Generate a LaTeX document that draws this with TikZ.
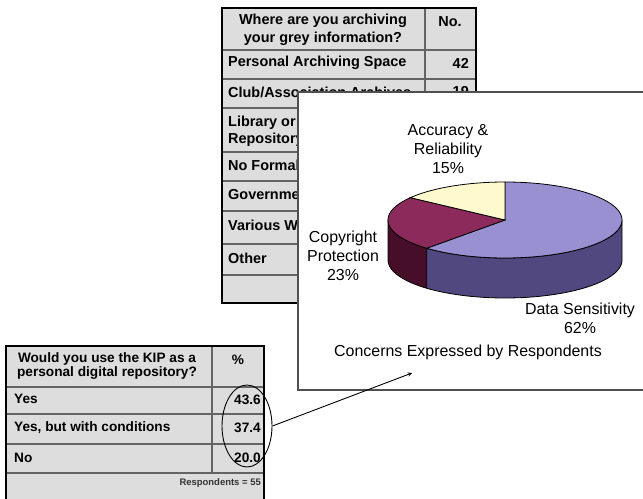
\documentclass[tikz,border=0pt]{standalone}
\usepackage{fontspec}
\setmainfont{Liberation Sans}
\usepackage{tikz}
\usetikzlibrary{arrows,shapes.geometric,positioning}
\definecolor{tblgray}{RGB}{221,221,221}
\definecolor{tblline}{RGB}{100,100,100}
\definecolor{boxline}{RGB}{80,80,80}
\definecolor{pieblue}{RGB}{153,144,210}
\definecolor{piebluedark}{RGB}{80,72,126}
\definecolor{piered}{RGB}{140,42,92}
\definecolor{pieredark}{RGB}{70,14,40}
\definecolor{pieyellow}{RGB}{255,250,206}
\tikzstyle{cell} = [inner sep=0pt, font=\bfseries\fontsize{14.5}{17.5}\selectfont]
\tikzstyle{smallcell} = [inner sep=0pt, font=\bfseries\fontsize{13.7}{14.5}\selectfont]
\tikzstyle{pielabel} = [inner sep=0pt, align=center, font=\fontsize{16}{19}\selectfont]
\tikzstyle{slice} = [draw=black, line width=0.8]
\tikzstyle{pointer} = [line width=0.9,->,>=stealth,color=black]
\def\pcx{505}
\def\pcy{220}
\def\prx{117}
\def\pry{38}
\def\pdep{40}

\begin{document}
\begin{tikzpicture}[x=1bp, y=-1bp]
\useasboundingbox (0,0) rectangle (643,499);
\clip (0,0) rectangle (643,499);
% Archive table
\fill[tblgray] (222,8) rectangle (476,303);
\foreach \y in {50,79,108,152,181,211,244,275}
  \draw[tblline, line width=1.4] (222,\y) -- (476,\y);
\draw[tblline, line width=1.4] (425,8) -- (425,303);
\draw[black, line width=2.5] (222,8) rectangle (476,303);
\node[cell, align=center] (qarch) at (323,30) {Where are you archiving\\your grey information?};
\node[cell] (qno) at (450,22) {No.};
\node[cell, anchor=west] (rpers) at (228,63) {Personal Archiving Space};
\node[cell, anchor=west] (rclub) at (228,92) {Club/Association Archives};
\node[cell, anchor=west, align=left] (rlib) at (228,131) {Library or\\Repository};
\node[cell, anchor=west] (rform) at (228,165) {No Formal};
\node[cell, anchor=west] (rgov) at (228,195) {Government};
\node[cell, anchor=west] (rvar) at (228,225) {Various W};
\node[cell, anchor=west] (roth) at (228,258) {Other};
\node[cell, anchor=east] (npers) at (469,63) {42};
\node[cell, anchor=east] (nclub) at (469,92) {19};

% Chart panel
\draw[boxline, line width=1.5, fill=white] (298,92) rectangle (660,390);
% Pie sides
\filldraw[slice, fill=pieredark] plot[domain=180:228, samples=30] ({\pcx+\prx*cos(\x)},{\pcy-\pry*sin(\x)})
  -- plot[domain=228:180, samples=30] ({\pcx+\prx*cos(\x)},{\pcy+\pdep-\pry*sin(\x)}) -- cycle;
\filldraw[slice, fill=piebluedark] plot[domain=228:360, samples=60] ({\pcx+\prx*cos(\x)},{\pcy-\pry*sin(\x)})
  -- plot[domain=360:228, samples=60] ({\pcx+\prx*cos(\x)},{\pcy+\pdep-\pry*sin(\x)}) -- cycle;
% Pie top
\filldraw[slice, fill=pieblue] (\pcx,\pcy) -- plot[domain=-132:90, samples=90] ({\pcx+\prx*cos(\x)},{\pcy-\pry*sin(\x)}) -- cycle;
\filldraw[slice, fill=piered] (\pcx,\pcy) -- plot[domain=144:228, samples=40] ({\pcx+\prx*cos(\x)},{\pcy-\pry*sin(\x)}) -- cycle;
\filldraw[slice, fill=pieyellow] (\pcx,\pcy) -- plot[domain=90:144, samples=30] ({\pcx+\prx*cos(\x)},{\pcy-\pry*sin(\x)}) -- cycle;
\node[pielabel] (lacc) at (448,149) {Accuracy \&\\Reliability\\15\%};
\node[pielabel] (lcopy) at (343,256) {Copyright\\Protection\\23\%};
\node[pielabel] (ldata) at (580,318) {Data Sensitivity\\62\%};
\node[pielabel] (title) at (468,352) {Concerns Expressed by Respondents};

% KIP table
\fill[tblgray] (6,346) rectangle (264,510);
\foreach \y in {387,414,444,473}
  \draw[tblline, line width=1.4] (6,\y) -- (264,\y);
\draw[tblline, line width=1.4] (212,346) -- (212,473);
\draw[black, line width=2.5] (6,510) -- (6,346) -- (264,346) -- (264,510);
\node[smallcell, align=center] (qkip) at (107,366) {Would you use the KIP as a\\personal digital repository?};
\node[smallcell] (qpct) at (238,360) {\%};
\node[smallcell, anchor=west] (ryes) at (14,399) {Yes};
\node[smallcell, anchor=west] (rcond) at (14,428) {Yes, but with conditions};
\node[smallcell, anchor=west] (rno) at (14,458) {No};
\node[smallcell, anchor=east] (pyes) at (261,400) {43.6};
\node[smallcell, anchor=east] (pcond) at (261,428) {37.4};
\node[smallcell, anchor=east] (pno) at (261,458) {20.0};
\node[inner sep=0pt, anchor=east, font=\bfseries\fontsize{9.5}{11}\selectfont, text=black!80] (resp) at (261,483) {Respondents = 55};

% Pointer to the chart
\node[draw, ellipse, line width=0.9, minimum width=50bp, minimum height=82bp, inner sep=0pt] (circ) at (247,426) {};
\coordinate (tip) at (412,373);
\draw[pointer] (circ.east) -- (tip);
\end{tikzpicture}
\end{document}
